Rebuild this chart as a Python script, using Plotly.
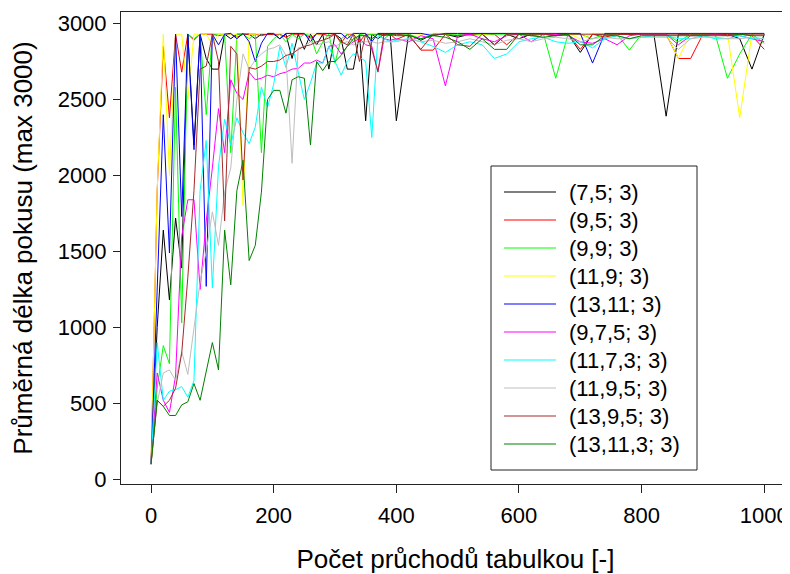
import plotly.graph_objs as go

# number of passes through the table (x), finer step at the start
passes = list(range(0, 400, 10)) + list(range(400, 1001, 20))

x_ticks = [0, 200, 400, 600, 800, 1000]
x_tick_labels = ['0', '200', '400', '600', '800', '1000']
y_ticks = [0, 500, 1000, 1500, 2000, 2500, 3000]
y_tick_labels = ['0', '500', '1000', '1500', '2000', '2500', '3000']

names = ['(7,5; 3)', '(9,5; 3)', '(9,9; 3)', '(11,9; 3)', '(13,11; 3)',
         '(9,7,5; 3)', '(11,7,3; 3)', '(11,9,5; 3)', '(13,9,5; 3)', '(13,11,3; 3)']

len_7_5 = [100, 1000, 1640, 1180, 1720, 1390, 2930, 2200, 2930, 2770,
           2700, 2700, 2930, 2900, 2930, 2930, 2930, 2900, 2930, 2930,
           2930, 2900, 2930, 2770, 2930, 2830, 2930, 2860, 2930, 2700,
           2930, 2900, 2700, 2700, 2930, 2360, 2930, 2900, 2930, 2930,
           2360, 2930, 2890, 2930, 2930, 2910, 2930, 2930, 2860, 2930,
           2900, 2930, 2930, 2920, 2930, 2810, 2930, 2930, 2930, 2930,
           2930, 2930, 2390, 2930, 2930, 2930, 2930, 2930, 2900, 2700, 2930]

len_9_5 = [100, 1900, 2850, 2380, 2930, 2680, 2930, 2890, 2930, 2930,
           2930, 2920, 2930, 2930, 2910, 2930, 2930, 2930, 2920, 2930,
           2930, 2930, 2910, 2930, 2930, 2930, 2905, 2930, 2930, 2920,
           2930, 2870, 2930, 2930, 2880, 2930, 2930, 2930, 2925, 2930,
           2895, 2930, 2825, 2825, 2930, 2920, 2930, 2930, 2930, 2860,
           2930, 2920, 2930, 2930, 2930, 2830, 2930, 2910, 2930, 2930,
           2930, 2930, 2930, 2770, 2770, 2930, 2930, 2930, 2930, 2920, 2830]

len_9_9 = [100, 600, 880, 760, 2580, 1030, 2930, 2900, 2930, 2400,
           2930, 2930, 2930, 2150, 2930, 2930, 2900, 2930, 2150, 2850,
           2900, 2930, 2880, 2930, 2900, 2930, 2920, 2800, 2880, 2930,
           2740, 2900, 2930, 2880, 2930, 2920, 2930, 2930, 2900, 2930,
           2930, 2930, 2900, 2930, 2930, 2930, 2920, 2930, 2930, 2930,
           2930, 2930, 2930, 2640, 2930, 2930, 2900, 2930, 2930, 2825,
           2930, 2930, 2930, 2880, 2930, 2930, 2930, 2640, 2800, 2930, 2870]

len_11_9 = [100, 1900, 2930, 2000, 2930, 2930, 2500, 2930, 2930, 2930,
            2860, 2930, 2930, 2930, 2930, 1800, 2930, 2930, 2935, 2935,
            2935, 2935, 2935, 2935, 2935, 2935, 2935, 2930, 2935, 2935,
            2935, 2935, 2935, 2930, 2935, 2935, 2935, 2935, 2935, 2935,
            2935, 2935, 2930, 2935, 2935, 2935, 2935, 2930, 2935, 2935,
            2935, 2935, 2935, 2935, 2935, 2900, 2935, 2935, 2935, 2935,
            2935, 2935, 2935, 2770, 2935, 2935, 2935, 2935, 2380, 2935, 2935]

len_13_11 = [100, 1230, 2400, 1490, 2930, 1730, 2930, 2170, 2930, 1270,
             2930, 2860, 2930, 2935, 2900, 2935, 2880, 2750, 2870, 2935,
             2935, 2900, 2935, 2935, 2935, 2935, 2880, 2935, 2935, 2935,
             2935, 2935, 2900, 2935, 2935, 2935, 2880, 2935, 2935, 2935,
             2935, 2935, 2935, 2920, 2935, 2935, 2935, 2935, 2935, 2935,
             2935, 2935, 2935, 2935, 2935, 2935, 2740, 2935, 2935, 2935,
             2935, 2935, 2935, 2935, 2935, 2935, 2935, 2935, 2935, 2935, 2935]

len_9_7_5 = [100, 700, 520, 440, 680, 1600, 1840, 1840, 1250, 1700,
             2050, 2440, 2150, 2630, 2540, 2500, 2680, 2630, 2640, 2660,
             2650, 2670, 2680, 2700, 2705, 2740, 2740, 2760, 2740, 2850,
             2860, 2800, 2850, 2880, 2900, 2860, 2850, 2680, 2900, 2890,
             2900, 2880, 2920, 2900, 2590, 2920, 2930, 2900, 2880, 2920,
             2930, 2880, 2930, 2930, 2920, 2880, 2870, 2900, 2860, 2920,
             2930, 2930, 2930, 2860, 2920, 2920, 2930, 2920, 2920, 2900, 2880]

len_11_7_3 = [100, 900, 520, 580, 590, 610, 540, 650, 1900, 2230,
              1260, 2060, 2370, 2200, 2380, 2280, 2210, 2320, 2580, 2450,
              2600, 2850, 2710, 2870, 2680, 2500, 2610, 2740, 2740, 2850,
              2750, 2660, 2750, 2800, 2780, 2750, 2250, 2920, 2900, 2880,
              2890, 2900, 2880, 2850, 2810, 2860, 2880, 2860, 2770, 2800,
              2880, 2900, 2910, 2880, 2870, 2880, 2840, 2900, 2920, 2900,
              2910, 2920, 2920, 2900, 2900, 2920, 2900, 2900, 2920, 2900, 2900]

len_11_9_5 = [100, 500, 700, 720, 650, 840, 690, 1000, 1300, 1500,
              1760, 1540, 1890, 2050, 2500, 2800, 2700, 2760, 2800, 2830,
              2840, 2860, 2790, 2080, 2840, 2850, 2880, 2860, 2870, 2880,
              2850, 2870, 2880, 2860, 2870, 2880, 2880, 2870, 2880, 2880,
              2880, 2900, 2880, 2890, 2870, 2880, 2900, 2880, 2860, 2890,
              2900, 2880, 2900, 2910, 2900, 2880, 2900, 2910, 2900, 2900,
              2910, 2910, 2910, 2830, 2900, 2910, 2910, 2900, 2900, 2910, 2900]

len_13_9_5 = [100, 520, 480, 520, 600, 830, 1330, 1900, 2700, 2720,
              2930, 2750, 1700, 2850, 2800, 1970, 2710, 2700, 2720, 2750,
              2750, 2760, 2790, 2800, 2830, 2850, 2860, 2880, 2890, 2905,
              2930, 2880, 2860, 2930, 2750, 2930, 2830, 2685, 2930, 2920,
              2930, 2920, 2830, 2930, 2930, 2860, 2850, 2930, 2860, 2930,
              2930, 2930, 2930, 2920, 2930, 2930, 2930, 2930, 2930, 2930,
              2930, 2930, 2930, 2930, 2930, 2930, 2930, 2930, 2930, 2930, 2930]

len_13_11_3 = [100, 520, 480, 420, 420, 490, 510, 630, 520, 700,
               900, 720, 1640, 1280, 1900, 2100, 1440, 1540, 1890, 2500,
               2560, 2560, 2410, 2630, 2650, 2640, 2200, 2750, 2690, 2750,
               2750, 2790, 2850, 2900, 2920, 2920, 2900, 2930, 2920, 2930,
               2920, 2920, 2900, 2920, 2910, 2880, 2830, 2900, 2830, 2830,
               2930, 2920, 2910, 2920, 2930, 2860, 2860, 2920, 2920, 2900,
               2920, 2920, 2920, 2920, 2920, 2920, 2920, 2920, 2930, 2920, 2920]

series = [len_7_5, len_9_5, len_9_9, len_11_9, len_13_11,
          len_9_7_5, len_11_7_3, len_11_9_5, len_13_9_5, len_13_11_3]

colors = ['#000000', '#FF0000', '#00FF00', '#FFFF00', '#0000FF',
          '#FF00FF', '#00FFFF', '#BEBEBE', '#A52A2A', '#008000']

font_family = 'Liberation Sans, Arial, sans-serif'

# the page puts the figure 8px in from the window corner (body margin),
# so the figure is 8px smaller and the margins are shifted by that offset
OFF = 8
W, H = 790 - OFF, 574 - OFF
# plot area in window pixels
left, top, right, bottom = 121, 12, 790, 484
pw, ph = right - left, bottom - top


def px_x(px):
    return (px - left) / pw


def px_y(py):
    return (bottom - py) / ph


traces = []
for name, vals, col in zip(names, series, colors):
    traces.append(
        go.Scatter(x=passes, y=vals, mode='lines', name=name,
                   line=dict(color=col, width=1), showlegend=False))

fig = go.Figure(traces)

# legend drawn by hand so the row spacing matches
shapes = [dict(type='rect', xref='paper', yref='paper',
               x0=px_x(491), x1=px_x(697), y0=px_y(470), y1=px_y(166),
               line=dict(color='#222222', width=1), fillcolor='white',
               layer='below')]
annotations = []
for i, (name, col) in enumerate(zip(names, colors)):
    yy = px_y(192 + 28 * i)
    shapes.append(dict(type='line', xref='paper', yref='paper',
                       x0=px_x(504), x1=px_x(556), y0=yy, y1=yy,
                       line=dict(color=col, width=1)))
    annotations.append(dict(xref='paper', yref='paper', x=px_x(567), y=yy,
                            text=name, showarrow=False, xanchor='left',
                            yanchor='middle',
                            font=dict(size=22, color='black', family=font_family)))

fig.update_layout(
    width=W, height=H,
    margin=dict(l=left - OFF, r=0, t=top - OFF, b=H - (bottom - OFF)),
    plot_bgcolor='white',
    paper_bgcolor='white',
    font=dict(family=font_family, color='black'),
    xaxis=dict(title=dict(text='Počet průchodů tabulkou [-]',
                          font=dict(size=26, color='black'), standoff=22),
               automargin=False,
               range=[-49, 1042],
               tickvals=x_ticks, ticktext=x_tick_labels,
               tickfont=dict(size=22, color='black'),
               ticks='outside', ticklen=8, tickcolor='#222222',
               ticklabelstandoff=4,
               showline=True, linecolor='#222222', linewidth=1,
               mirror=True, showgrid=False, zeroline=False),
    yaxis=dict(title=dict(text='Průměrná délka pokusu (max 3000)',
                          font=dict(size=26, color='black'), standoff=22),
               automargin=False,
               range=[-31, 3076],
               tickvals=y_ticks, ticktext=y_tick_labels,
               tickfont=dict(size=22, color='black'),
               ticks='outside', ticklen=7, tickcolor='#222222',
               ticklabelstandoff=2,
               showline=True, linecolor='#222222', linewidth=1,
               showgrid=False, zeroline=False),
    shapes=shapes,
    annotations=annotations,
)

fig.write_html('out.html')
